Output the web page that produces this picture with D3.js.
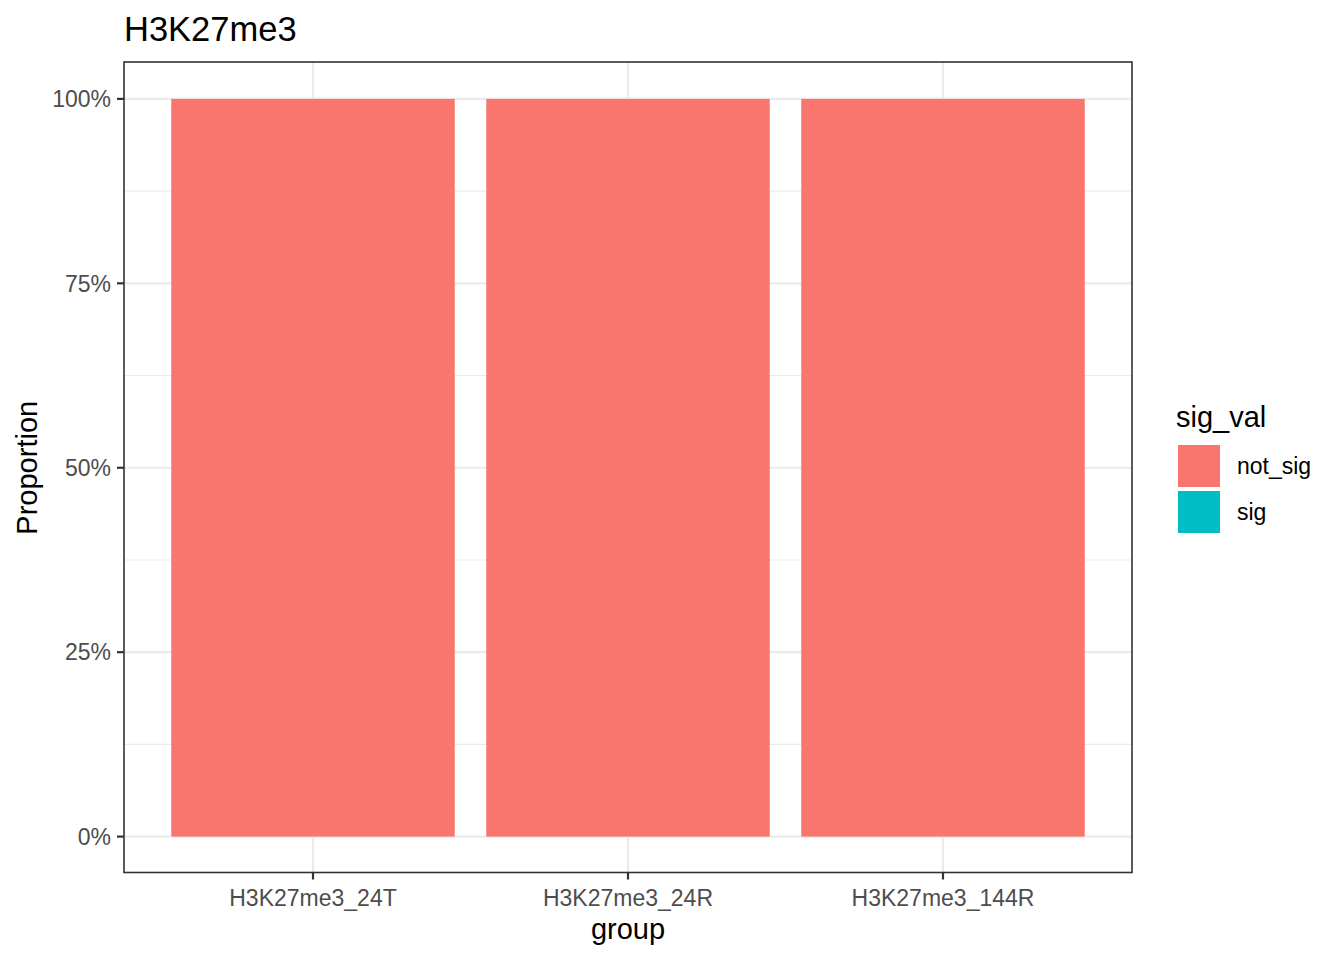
<!DOCTYPE html>
<html><head><meta charset="utf-8">
<script src="https://cdn.jsdelivr.net/npm/d3@7"></script>
<style>body{margin:0;background:#fff}text{font-family:"Liberation Sans",Arial,sans-serif}</style>
</head><body>
<svg id="c" width="1344" height="960"></svg>
<script>
const groups = ["H3K27me3_24T", "H3K27me3_24R", "H3K27me3_144R"];
const sigLevels = ["not_sig", "sig"];
const notSigValues = [1.0, 1.0, 1.0];
const sigValues = [0.0, 0.0, 0.0];
const yTicks = [0, 0.25, 0.5, 0.75, 1.0];
const yMinor = [0.125, 0.375, 0.625, 0.875];
const colors = ["#F8766D", "#00BFC4"];

const svg = d3.select("#c");
const L = 124, R = 1132, T = 62, B = 873.5;

const nG = groups.length;
const step = (R - L) / (nG - 1 + 1.2);
const xc = d => L + step * (0.6 + groups.indexOf(d));
const bw = step * 0.9;
const y = d3.scaleLinear().domain([-0.05, 1.05]).range([B, T]);

// gridlines
const g = svg.append("g");
yMinor.forEach(v => g.append("line").attr("x1", L).attr("x2", R).attr("y1", y(v)).attr("y2", y(v)).attr("stroke", "#ebebeb").attr("stroke-width", 1.1));
yTicks.forEach(v => g.append("line").attr("x1", L).attr("x2", R).attr("y1", y(v)).attr("y2", y(v)).attr("stroke", "#ebebeb").attr("stroke-width", 2.2));
groups.forEach(d => g.append("line").attr("y1", T).attr("y2", B).attr("x1", xc(d)).attr("x2", xc(d)).attr("stroke", "#ebebeb").attr("stroke-width", 2.2));

// stacked data
const data = groups.map((d, i) => ({group: d, not_sig: notSigValues[i], sig: sigValues[i]}));
const stack = d3.stack().keys(["sig", "not_sig"])(data);
stack.forEach(layer => {
  const ci = sigLevels.indexOf(layer.key);
  svg.append("g").selectAll("rect").data(layer).join("rect")
    .attr("x", d => xc(d.data.group) - bw / 2)
    .attr("width", bw)
    .attr("y", d => y(d[1]))
    .attr("height", d => Math.max(0, y(d[0]) - y(d[1])))
    .attr("fill", colors[ci]);
});

// panel border
svg.append("rect").attr("x", L).attr("y", T).attr("width", R - L).attr("height", B - T - 1)
  .attr("fill", "none").attr("stroke", "#333333").attr("stroke-width", 1.6);

// y axis ticks
yTicks.forEach(v => {
  svg.append("line").attr("x1", L - 7).attr("x2", L).attr("y1", y(v)).attr("y2", y(v)).attr("stroke", "#333333").attr("stroke-width", 2.2);
  svg.append("text").attr("x", L - 13).attr("y", y(v)).attr("dy", "0.36em").attr("text-anchor", "end")
    .attr("font-size", 23).attr("fill", "#4d4d4d").text(d3.format(".0%")(v));
});
// x axis ticks
groups.forEach(d => {
  svg.append("line").attr("y1", B - 1).attr("y2", B + 6).attr("x1", xc(d)).attr("x2", xc(d)).attr("stroke", "#333333").attr("stroke-width", 2.2);
  svg.append("text").attr("x", xc(d)).attr("y", 906).attr("text-anchor", "middle")
    .attr("font-size", 23).attr("fill", "#4d4d4d").text(d);
});

// axis titles
svg.append("text").attr("x", (L + R) / 2).attr("y", 939).attr("text-anchor", "middle").attr("font-size", 29).attr("fill", "#000").text("group");
svg.append("text").attr("transform", `translate(37,${(T + B) / 2}) rotate(-90)`).attr("text-anchor", "middle").attr("font-size", 29).attr("fill", "#000").text("Proportion");

// title
svg.append("text").attr("x", 124).attr("y", 41).attr("font-size", 34.5).attr("fill", "#000").text("H3K27me3");

// legend
svg.append("text").attr("x", 1176).attr("y", 427).attr("font-size", 29).attr("fill", "#000").text("sig_val");
sigLevels.forEach((k, i) => {
  const yy = 445 + i * 46;
  svg.append("rect").attr("x", 1178).attr("y", yy).attr("width", 42).attr("height", 42).attr("fill", colors[i]);
  svg.append("text").attr("x", 1237).attr("y", yy + 21).attr("dy", "0.36em").attr("font-size", 23).attr("fill", "#000").text(k);
});
</script>
</body></html>
